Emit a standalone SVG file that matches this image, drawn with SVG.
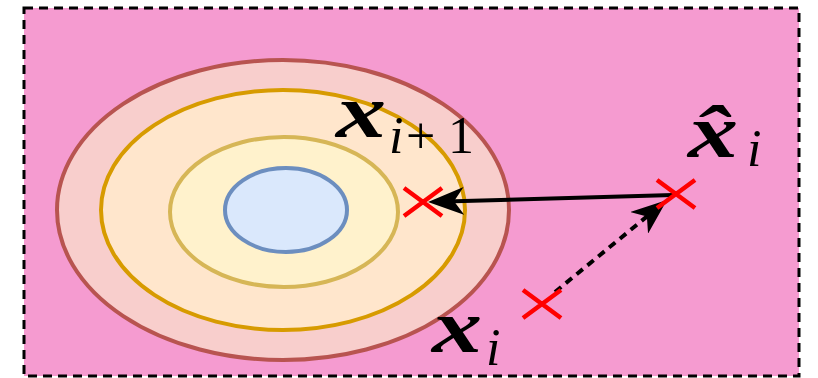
<svg xmlns="http://www.w3.org/2000/svg" width="818" height="378" viewBox="0 0 818 378">
<defs>
<style>
.frame{fill:#f59bd0;stroke:#000;stroke-width:3;stroke-dasharray:9 6}
.lvl{stroke-width:4}
.cross{stroke:#ff0000;stroke-width:4.5;fill:none}
.conn{stroke:#000;stroke-width:4;fill:none}
.math{fill:#000}
.bx{font-family:"Liberation Serif","Times New Roman",serif;font-weight:bold;font-style:italic;font-size:76px}
.sub{font-family:"Liberation Serif","Times New Roman",serif;font-style:italic;font-size:52px}
.up{font-family:"Liberation Serif","Times New Roman",serif;font-style:normal;font-size:52px}
</style>
<marker id="arr" markerUnits="userSpaceOnUse" viewBox="0 0 36 28" markerWidth="36" markerHeight="28" refX="28" refY="14" orient="auto">
<path d="M0,0 L36,14 L0,28 L10,14 Z" fill="#000"/>
</marker>
</defs>
<rect class="frame" x="24" y="8" width="775" height="368"/>
<g id="level1"><ellipse class="lvl" cx="283" cy="210" rx="226" ry="150" fill="#f8cecc" stroke="#b85450"/></g>
<g id="level2"><ellipse class="lvl" cx="283" cy="210" rx="182" ry="120" fill="#ffe6cc" stroke="#d79b00"/></g>
<g id="level3"><ellipse class="lvl" cx="284" cy="212" rx="114" ry="75" fill="#fff2cc" stroke="#d6b656"/></g>
<g id="level4"><ellipse class="lvl" cx="286" cy="210" rx="61" ry="42" fill="#dae8fc" stroke="#6c8ebf"/></g>
<g id="connectors">
<line class="conn" x1="673" y1="195" x2="436" y2="201.8" marker-end="url(#arr)"/>
<line class="conn" x1="555" y1="292" x2="660.8" y2="205.1" stroke-dasharray="8 6" marker-end="url(#arr)"/>
</g>
<g id="p_next"><path class="cross" d="M404,188 L442,216 M404,216 L442,188"/></g>
<g id="p_hat"><path class="cross" d="M657,180 L695,208 M657,208 L695,180"/></g>
<g id="p_cur"><path class="cross" d="M523,290 L561,318 M523,318 L561,290"/></g>
<g id="label_next" class="math">
<text class="bx" transform="translate(336,137) scale(1.32,1)">x</text>
<text class="sub" x="389" y="153">i</text>
<text class="up" x="406" y="153">+</text>
<text class="up" x="448" y="153">1</text>
</g>
<g id="label_hat" class="math">
<text class="bx" transform="translate(688,157) scale(1.32,1)">x̂</text>
<text class="sub" x="747" y="166">i</text>
</g>
<g id="label_cur" class="math">
<text class="bx" transform="translate(432,352) scale(1.32,1)">x</text>
<text class="sub" x="486" y="365">i</text>
</g>
</svg>
